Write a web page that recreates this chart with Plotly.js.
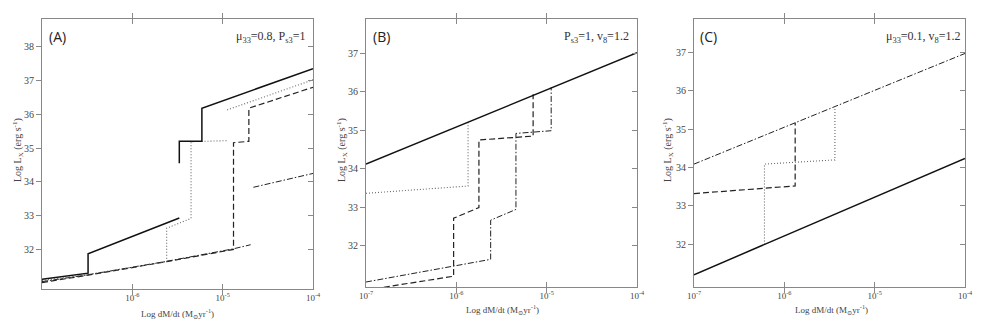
<!DOCTYPE html>
<html>
<head>
<meta charset="utf-8">
<script src="https://cdn.plot.ly/plotly-3.0.1.min.js"></script>
<style>html,body{margin:0;padding:0;background:#fff;}#chart{width:981px;height:327px;}</style>
</head>
<body>
<div id="chart"></div>
<script>
// x values are log10(dM/dt), y values are log10(Lx)
// Panel A (mu33=0.8, Ps3=1)
const solidA_x   = [-7, -6.49, -6.49, -5.48, null, -5.48, -5.48, -5.23, -5.23, -4];
const solidA_y   = [31.12, 31.3, 31.87, 32.93, null, 34.55, 35.2, 35.2, 36.18, 37.35];
const dottedA_x  = [-7, -6.49, -5.62, -5.62, -5.35, -5.35, -4.95, null, -4.95, -4];
const dottedA_y  = [31.08, 31.26, 31.64, 32.63, 32.92, 35.19, 35.22, null, 36.13, 37.02];
const dashedA_x  = [-7, -6.49, -5.62, -4.88, -4.88, -4.71, -4.71, -4];
const dashedA_y  = [31.02, 31.24, 31.64, 32.0, 35.16, 35.2, 36.18, 36.8];
const dashdotA_x = [-7, -6.49, -5.62, -4.88, -4.69, null, -4.66, -4];
const dashdotA_y = [31.05, 31.25, 31.65, 32.02, 32.14, null, 33.84, 34.25];

// Panel B (Ps3=1, v8=1.2)
const solidB_x   = [-7, -4];
const solidB_y   = [34.12, 37.02];
const dottedB_x  = [-7, -5.87, -5.87];
const dottedB_y  = [33.36, 33.55, 35.21];
const dashedB_x  = [-7, -6.03, -6.03, -5.75, -5.75, -5.15, -5.15];
const dashedB_y  = [30.84, 31.2, 32.71, 32.99, 34.75, 34.85, 35.94];
const dashdotB_x = [-7, -5.62, -5.62, -5.34, -5.34, -4.95, -4.95];
const dashdotB_y = [31.05, 31.64, 32.66, 32.94, 34.92, 34.99, 36.12];

// Panel C (mu33=0.1, v8=1.2)
const solidC_x   = [-7, -4];
const solidC_y   = [31.2, 34.24];
const dashdotC_x = [-7, -4];
const dashdotC_y = [34.09, 36.98];
const dashedC_x  = [-7, -5.88, -5.88];
const dashedC_y  = [33.32, 33.52, 35.17];
const dottedC_x  = [-6.22, -6.22, -5.44, -5.44];
const dottedC_y  = [31.99, 34.09, 34.2, 35.59];

// Tick labels
const xTickVals = [-7, -6, -5, -4];
const xTickTextA = ['', '10<sup>-6</sup>', '10<sup>-5</sup>', '10<sup>-4</sup>'];
const xTickTextBC = ['10<sup>-7</sup>', '10<sup>-6</sup>', '10<sup>-5</sup>', '10<sup>-4</sup>'];
const yTickValsA = [32, 33, 34, 35, 36, 37, 38];
const yTickValsBC = [32, 33, 34, 35, 36, 37];

const styles = {
  solid:   {color: '#111', width: 1.5, dash: 'solid'},
  dotted:  {color: '#666', width: 1.1, dash: '1px,2px'},
  dashed:  {color: '#222', width: 1.2, dash: '6px,3px'},
  dashdot: {color: '#222', width: 1.0, dash: '6px,2px,1.5px,2px'}
};
function tr(x, y, st, xa, ya) {
  return {x: x, y: y, type: 'scatter', mode: 'lines', line: styles[st],
          xaxis: xa, yaxis: ya, hoverinfo: 'skip', showlegend: false, connectgaps: false};
}
const data = [
  tr(dashdotA_x, dashdotA_y, 'dashdot', 'x', 'y'),
  tr(dashedA_x, dashedA_y, 'dashed', 'x', 'y'),
  tr(dottedA_x, dottedA_y, 'dotted', 'x', 'y'),
  tr(solidA_x, solidA_y, 'solid', 'x', 'y'),
  tr(dashdotB_x, dashdotB_y, 'dashdot', 'x2', 'y2'),
  tr(dashedB_x, dashedB_y, 'dashed', 'x2', 'y2'),
  tr(dottedB_x, dottedB_y, 'dotted', 'x2', 'y2'),
  tr(solidB_x, solidB_y, 'solid', 'x2', 'y2'),
  tr(dashdotC_x, dashdotC_y, 'dashdot', 'x3', 'y3'),
  tr(dashedC_x, dashedC_y, 'dashed', 'x3', 'y3'),
  tr(dottedC_x, dottedC_y, 'dotted', 'x3', 'y3'),
  tr(solidC_x, solidC_y, 'solid', 'x3', 'y3'),
  {x: [], y: [], type: 'scatter', xaxis: 'x', yaxis: 'y4', showlegend: false},
  {x: [], y: [], type: 'scatter', xaxis: 'x2', yaxis: 'y5', showlegend: false},
  {x: [], y: [], type: 'scatter', xaxis: 'x3', yaxis: 'y6', showlegend: false}
];

const W = 981, H = 327;
const serif = '"Liberation Serif", "DejaVu Serif", serif';
const tickFontX = {family: serif, size: 9, color: '#444'};
const tickFontY = {family: serif, size: 10, color: '#444'};
const lineCol = '#888';
function xax(l, r, anchor, text) {
  return {domain: [l / W, r / W], range: [-7, -4], anchor: anchor, tickmode: 'array',
    tickvals: xTickVals, ticktext: text, ticks: 'inside', ticklen: 5, tickcolor: lineCol,
    mirror: 'allticks', showline: true, linecolor: lineCol, linewidth: 1, showgrid: false,
    zeroline: false, tickfont: tickFontX, fixedrange: true};
}
function yax(b, t, range, vals, anchor) {
  return {domain: [1 - b / H, 1 - t / H], range: range, anchor: anchor, tickmode: 'array',
    tickvals: vals, ticks: 'outside', ticklen: 5, tickcolor: lineCol, mirror: true,
    showline: true, linecolor: lineCol, linewidth: 1, showgrid: false, zeroline: false,
    tickfont: tickFontY, fixedrange: true};
}
function yRight(over, anchor, range, vals) {
  return {overlaying: over, side: 'right', anchor: anchor, range: range, tickmode: 'array',
    tickvals: vals, ticks: 'inside', ticklen: 5, tickcolor: lineCol, showticklabels: false,
    showline: false, showgrid: false, zeroline: false, fixedrange: true};
}
const rA = [30.83, 38.82], rB = [30.92, 37.9], rC = [30.88, 37.88];

function ann(text, x, y, opts) {
  return Object.assign({text: text, xref: 'paper', yref: 'paper', x: x / W, y: 1 - y / H,
    showarrow: false, xanchor: 'center', yanchor: 'middle',
    font: {family: serif, size: 9, color: '#444'}}, opts || {});
}
const ytitle = 'Log L<sub>X</sub> (erg s<sup>-1</sup>)';
const xtitle = 'Log dM/dt (M<sub>⊙</sub>yr<sup>-1</sup>)';
const letterFont = {family: 'Open Sans, sans-serif', size: 14, color: '#222'};
const paramFont = {family: serif, size: 12, color: '#333'};
const ytitleFont = {family: serif, size: 10, color: '#444'};
const annotations = [
  ann('(A)', 47, 36, {xanchor: 'left', font: letterFont}),
  ann('(B)', 371, 36, {xanchor: 'left', font: letterFont}),
  ann('(C)', 698, 36, {xanchor: 'left', font: letterFont}),
  ann('μ<sub>33</sub>=0.8, P<sub>s3</sub>=1', 308, 37, {xanchor: 'right', font: paramFont}),
  ann('P<sub>s3</sub>=1, v<sub>8</sub>=1.2', 631, 37, {xanchor: 'right', font: paramFont}),
  ann('μ<sub>33</sub>=0.1, v<sub>8</sub>=1.2', 963, 37, {xanchor: 'right', font: paramFont}),
  ann(ytitle, 18, 150, {textangle: -90, font: ytitleFont}),
  ann(ytitle, 342, 150, {textangle: -90, font: ytitleFont}),
  ann(ytitle, 668, 150, {textangle: -90, font: ytitleFont}),
  ann(xtitle, 177, 313),
  ann(xtitle, 502, 309),
  ann(xtitle, 831, 309)
];

const layout = {
  width: W, height: H, margin: {l: 0, r: 0, t: 0, b: 0},
  paper_bgcolor: '#fff', plot_bgcolor: '#fff', showlegend: false,
  xaxis: xax(42, 313, 'y', xTickTextA),
  yaxis: yax(289, 19, rA, yTickValsA, 'x'),
  xaxis2: xax(366, 637, 'y2', xTickTextBC),
  yaxis2: yax(287, 19, rB, yTickValsBC, 'x2'),
  xaxis3: xax(694, 965, 'y3', xTickTextBC),
  yaxis3: yax(287, 19, rC, yTickValsBC, 'x3'),
  yaxis4: yRight('y', 'x', rA, yTickValsA),
  yaxis5: yRight('y2', 'x2', rB, yTickValsBC),
  yaxis6: yRight('y3', 'x3', rC, yTickValsBC),
  annotations: annotations
};
Plotly.newPlot('chart', data, layout, {staticPlot: true, displayModeBar: false});
</script>
</body>
</html>
